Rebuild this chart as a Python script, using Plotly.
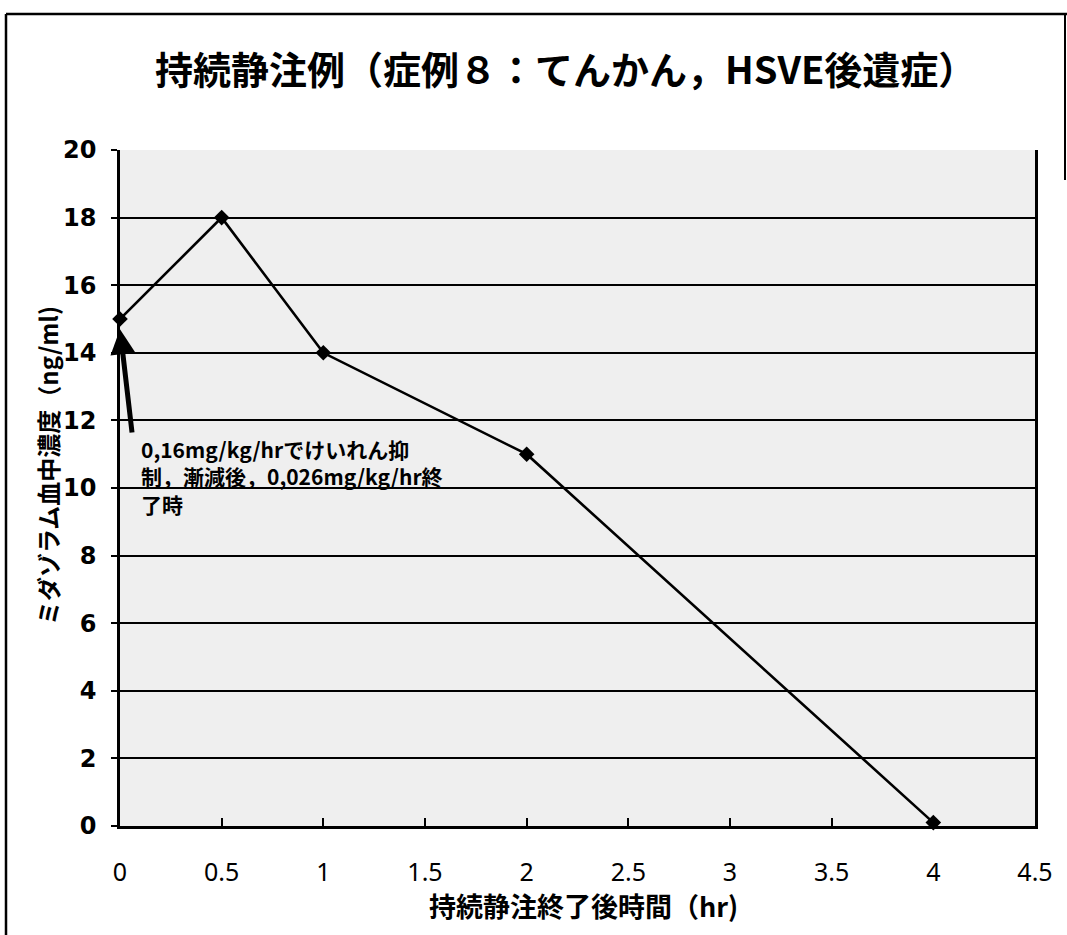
import plotly.graph_objects as go

# Midazolam concentration after stopping the continuous infusion
hours = [0, 0.5, 1, 2, 4]
conc = [15, 18, 14, 11, 0.1]

x_ticks = [0, 0.5, 1, 1.5, 2, 2.5, 3, 3.5, 4, 4.5]
x_tick_text = ["0", "0.5", "1", "1.5", "2", "2.5", "3", "3.5", "4", "4.5"]
y_ticks = [0, 2, 4, 6, 8, 10, 12, 14, 16, 18, 20]

title_text = "持続静注例（症例８：てんかん，HSVE後遺症）"
x_title = "持続静注終了後時間（hr)"
y_title = "ミダゾラム血中濃度（ng/ml)"
note_lines = ["0,16mg/kg/hrでけいれん抑", "制，漸減後，0,026mg/kg/hr終", "了時"]

JP = "Noto Sans CJK JP"
W, H = 1067, 935
ML, MR, MT, MB = 120, 32, 150, 109
PW, PH = W - ML - MR, H - MT - MB


def px(x):
    """Horizontal pixel -> paper coordinate."""
    return (x - ML) / PW


def py(y):
    """Vertical pixel (from top) -> paper coordinate."""
    return (H - MB - y) / PH


fig = go.Figure()
fig.add_trace(go.Scatter(
    x=hours, y=conc, mode="lines+markers",
    line=dict(color="black", width=2.6),
    marker=dict(symbol="diamond", size=12, color="black"),
    showlegend=False, cliponaxis=False,
))

fig.update_layout(
    width=W, height=H,
    margin=dict(l=ML, r=MR, t=MT, b=MB),
    paper_bgcolor="white",
    plot_bgcolor="#efefef",
    font=dict(family=JP, color="black"),
)

fig.update_xaxes(
    range=[0, 4.5], tickvals=x_ticks, ticktext=x_tick_text,
    showgrid=False, zeroline=False,
    showline=True, linecolor="black", linewidth=2.5, mirror=False,
    ticks="inside", ticklen=8, tickwidth=2, tickcolor="black",
    tickfont=dict(family="Noto Sans", size=25, color="black"),
    ticklabelstandoff=22,
)
fig.update_yaxes(
    range=[0, 20], tickvals=y_ticks,
    showgrid=True, gridcolor="black", gridwidth=1.6,
    zeroline=False,
    showline=True, linecolor="black", linewidth=2.5, mirror=True,
    ticks="outside", ticklen=6, tickwidth=2, tickcolor="black",
    tickfont=dict(family="DejaVu Sans", size=24, color="black", weight="bold"),
    ticklabelstandoff=10,
)

# Titles
fig.add_annotation(x=px(565), y=py(68), xref="paper", yref="paper",
                   text=title_text, showarrow=False, xanchor="center", yanchor="middle",
                   font=dict(family=JP, size=38, color="black", weight="bold"))
fig.add_annotation(x=px(583), y=py(905), xref="paper", yref="paper",
                   text=x_title, showarrow=False, xanchor="center", yanchor="middle",
                   font=dict(family=JP, size=27, color="black", weight="bold"))
fig.add_annotation(x=px(48), y=py(466), xref="paper", yref="paper",
                   text=y_title, showarrow=False, textangle=-90,
                   xanchor="center", yanchor="middle",
                   font=dict(family=JP, size=24, color="black", weight="bold"))

# Arrow pointing at the first sample
fig.add_annotation(
    x=hours[0], y=conc[0] - 0.3, xref="x", yref="y",
    ax=0.06, ay=conc[0] - 3.4, axref="x", ayref="y",
    showarrow=True, arrowhead=2, arrowsize=1.0, arrowwidth=5, arrowcolor="black",
    text="",
)

# Note text beside the arrow
fig.add_annotation(
    x=px(139), y=py(432), xref="paper", yref="paper",
    xanchor="left", yanchor="top",
    text="<br>".join(note_lines), showarrow=False, align="left",
    font=dict(family=JP, size=21, color="black", weight="bold"),
)

# Outer frame around the figure
fig.add_shape(type="line", xref="paper", yref="paper",
              x0=px(6), x1=px(W + 5), y0=py(14), y1=py(14),
              line=dict(color="black", width=2.5))
fig.add_shape(type="line", xref="paper", yref="paper",
              x0=px(6), x1=px(6), y0=py(14), y1=py(H + 5),
              line=dict(color="black", width=2.5))
fig.add_shape(type="line", xref="paper", yref="paper",
              x0=px(1065), x1=px(1065), y0=py(14), y1=py(180),
              line=dict(color="black", width=2))

fig.write_html("out.html")
